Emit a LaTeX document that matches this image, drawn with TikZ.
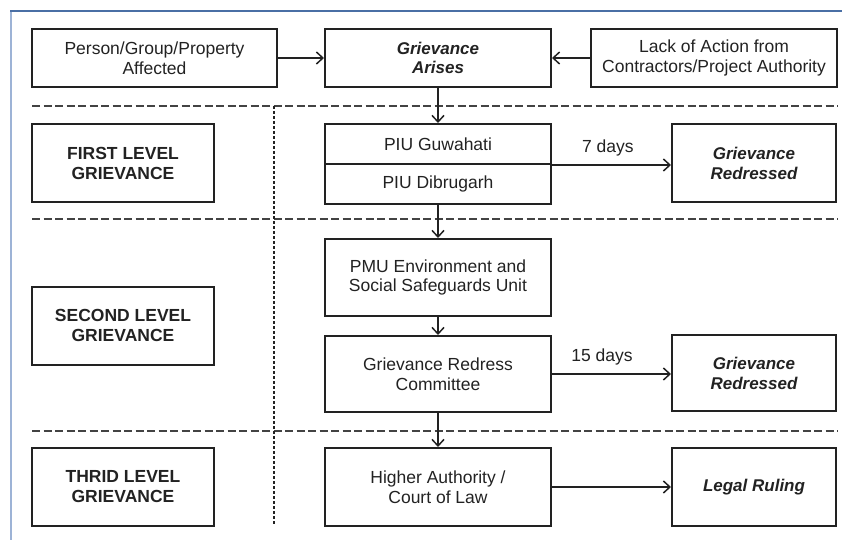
\documentclass[tikz,border=0pt]{standalone}
\usepackage{fontspec}
\setmainfont{Liberation Sans}
\usepackage{tikz}
\usetikzlibrary{arrows.meta,positioning,calc}
\definecolor{frameblue}{HTML}{4A6FA5}
\definecolor{edgeblue}{HTML}{9DB3D6}
\definecolor{ink}{HTML}{222222}
\tikzset{
  >={Straight Barb[length=6.5pt,width=12pt,line width=1.5pt]},
  block/.style={draw=ink, line width=2pt, rectangle, inner sep=2pt, align=center,
    font=\fontsize{17.5}{19.5}\selectfont, text=ink},
  level/.style={block, minimum width=182pt, minimum height=78pt,
    font=\fontsize{17.5}{20}\selectfont\bfseries},
  mid/.style={block, minimum width=226pt, minimum height=77pt},
  result/.style={block, minimum width=164pt, minimum height=78pt,
    font=\fontsize{17}{20}\selectfont\bfseries\itshape},
  conn/.style={->, draw=ink, line width=1.6pt},
  sep/.style={draw=ink!85, line width=2pt, dash pattern=on 8pt off 3.5pt},
}
\begin{document}
\begin{tikzpicture}[x=1pt, y=-1pt]
    \useasboundingbox (0,0) rectangle (842,540);
    % page frame
    \draw[edgeblue, line width=2pt] (11,11) -- (11,540);
    \draw[frameblue, line width=2pt] (10,11) -- (842,11);

    % level separators
    \draw[sep] (32,106) -- (838,106);
    \draw[sep] (32,219) -- (838,219);
    \draw[sep] (32,431) -- (838,431);
    \draw[draw=ink, line width=1.8pt, dash pattern=on 3pt off 2pt] (274,106) -- (274,525);

    % top row
    \node[block, minimum width=245pt, minimum height=58pt] (person) at (154.5,58)
      {Person/Group/Property\\Affected};
    \node[block, minimum width=226pt, minimum height=58pt,
      font=\fontsize{17}{19.5}\selectfont\bfseries\itshape] (arises) at (438,58)
      {Grievance\\Arises};
    \node[block, minimum width=246pt, minimum height=58pt] (lack) at (714,58)
      {Lack of Action from\\Contractors/Project Authority};

    % levels
    \node[level] (first)  at (123,163)   {FIRST LEVEL\\GRIEVANCE};
    \node[level] (second) at (123,325.5) {SECOND LEVEL\\GRIEVANCE};
    \node[level] (third)  at (123,487)   {THRID LEVEL\\GRIEVANCE};

    % middle column
    \node[block, minimum width=226pt, minimum height=40pt] (piuG) at (438,144) {PIU Guwahati};
    \node[block, minimum width=226pt, minimum height=40pt, below=-2pt of piuG] (piuD) {PIU Dibrugarh};
    \node[mid] (pmu)    at (438,277.5) {PMU Environment and\\Social Safeguards Unit};
    \node[mid, minimum height=76pt] (grc) at (438,374) {Grievance Redress\\Committee};
    \node[mid, minimum height=78pt] (higher) at (438,487) {Higher Authority /\\Court of Law};

    % outcomes
    \node[result] (redA)  at (754,163) {Grievance\\Redressed};
    \node[result, minimum height=76pt] (redB) at (754,373) {Grievance\\Redressed};
    \node[result] (legal) at (754,487) {Legal Ruling};

    % arrows
    \draw[conn] (person) -- (arises);
    \draw[conn] (lack) -- (arises);
    \draw[conn] (arises) -- (piuG);
    \draw[conn] (piuD) -- (pmu);
    \draw[conn] (pmu) -- (grc);
    \draw[conn] (grc) -- (higher);
    \draw[conn] (piuG.south east) -- node[above=5pt, pos=0.47, font=\fontsize{17.5}{19.5}\selectfont, text=ink] {7 days}
      (piuG.south east -| redA.west);
    \draw[conn] (grc.east) -- node[above=5pt, pos=0.42, font=\fontsize{17.5}{19.5}\selectfont, text=ink] {15 days}
      (grc.east -| redB.west);
    \draw[conn, line width=2.6pt] (higher) -- (legal);
  \end{tikzpicture}
\end{document}
